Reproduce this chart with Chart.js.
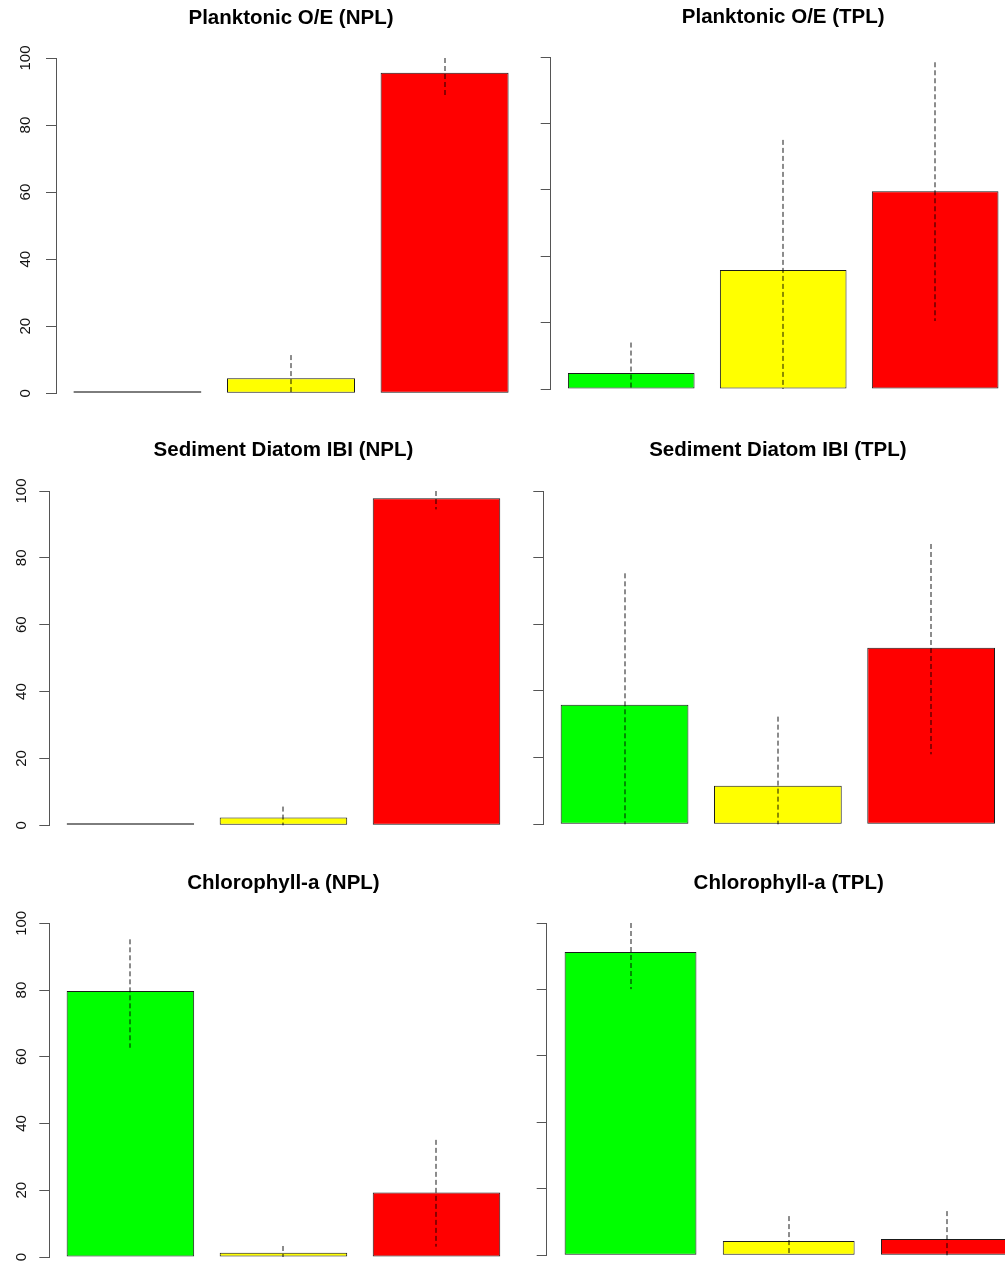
<!DOCTYPE html>
<html>
<head>
<meta charset="utf-8">
<title>Condition class percentages</title>
<script src="https://cdn.jsdelivr.net/npm/chart.js@4.4.0/dist/chart.umd.min.js"></script>
<style>
  html, body { margin: 0; padding: 0; background: #ffffff; overflow: hidden; }
  #page { position: relative; width: 1005px; height: 1262px; overflow: hidden; background: #ffffff; }
  .panel { position: absolute; }
</style>
</head>
<body>
<div id="page"></div>
<script>
// Condition classes (bar order) and their fill colours
const categories = ['Good', 'Fair', 'Poor'];
const barColors = ['#00ff00', '#ffff00', '#ff0000'];
const yTicks = [0, 20, 40, 60, 80, 100];

// Planktonic O/E
const planktonicNPL     = [0, 4.5, 95.6];
const planktonicNPLLow  = [0, 0, 88.5];
const planktonicNPLHigh = [0, 11.4, 100];

const planktonicTPL     = [4.8, 35.9, 59.6];
const planktonicTPLLow  = [0, 0, 20.5];
const planktonicTPLHigh = [14.0, 75.1, 98.5];

// Sediment Diatom IBI
const diatomNPL     = [0, 2.3, 97.8];
const diatomNPLLow  = [0, 0, 94.5];
const diatomNPLHigh = [0, 5.6, 100];

const diatomTPL     = [35.9, 11.6, 53.0];
const diatomTPLLow  = [0, 0, 21.0];
const diatomTPLHigh = [75.3, 32.3, 84.1];

// Chlorophyll-a
const chlNPL     = [79.7, 1.3, 19.3];
const chlNPLLow  = [62.7, 0, 3.1];
const chlNPLHigh = [95.2, 3.3, 35.1];

const chlTPL     = [91.3, 4.3, 4.9];
const chlTPLLow  = [80.1, 0, 0];
const chlTPLHigh = [100, 11.8, 13.3];

// Bar geometry: bars of width 1 separated by 0.2, plot range padded by 4% on each side
const BAR_SPACE = 0.2;
const RANGE_PAD = 0.04;
const SLOT = 1 + BAR_SPACE;
const SPAN = categories.length + (categories.length - 1) * BAR_SPACE;
const X_START = -0.5 + (BAR_SPACE / 2 - RANGE_PAD * SPAN) / SLOT;   // in category-index units
const X_RANGE = (SPAN * (1 + 2 * RANGE_PAD)) / SLOT;

// Panel boxes on the page: canvas box plus the axis line x and plot right edge
const panels = [
  { title: 'Planktonic O/E (NPL)', values: planktonicNPL, low: planktonicNPLLow, high: planktonicNPLHigh,
    box: { left: 0, top: 6, width: 527, height: 397, axisX: 56, plotRight: 526, padBottom: 9.7, titleGap: 27.4, labels: true, labelPad: 7.5 } },
  { title: 'Planktonic O/E (TPL)', values: planktonicTPL, low: planktonicTPLLow, high: planktonicTPLHigh,
    box: { left: 530, top: 5, width: 486, height: 393, axisX: 550.7, plotRight: 1015.7, padBottom: 9, titleGap: 27.7, labels: false, labelPad: 0 } },
  { title: 'Sediment Diatom IBI (NPL)', values: diatomNPL, low: diatomNPLLow, high: diatomNPLHigh,
    box: { left: 0, top: 438, width: 518, height: 396, axisX: 49.3, plotRight: 517.6, padBottom: 8.7, titleGap: 28.4, labels: true, labelPad: 5 } },
  { title: 'Sediment Diatom IBI (TPL)', values: diatomTPL, low: diatomTPLLow, high: diatomTPLHigh,
    box: { left: 530, top: 438, width: 483, height: 395, axisX: 543.3, plotRight: 1012.4, padBottom: 8.7, titleGap: 28.4, labels: false, labelPad: 0 } },
  { title: 'Chlorophyll-a (NPL)', values: chlNPL, low: chlNPLLow, high: chlNPLHigh,
    box: { left: 0, top: 871, width: 518, height: 395, axisX: 49.3, plotRight: 517.6, padBottom: 9, titleGap: 27.7, labels: true, labelPad: 5 } },
  { title: 'Chlorophyll-a (TPL)', values: chlTPL, low: chlTPLLow, high: chlTPLHigh,
    box: { left: 530, top: 871, width: 501, height: 393, axisX: 546.7, plotRight: 1030.7, padBottom: 8.7, titleGap: 27.4, labels: false, labelPad: 0 } }
];

// Dashed vertical interval lines through each bar centre
function intervalLines(low, high) {
  return {
    id: 'intervalLines',
    afterDatasetsDraw(chart) {
      const ctx = chart.ctx;
      const yScale = chart.scales.y;
      const meta = chart.getDatasetMeta(0);
      ctx.save();
      ctx.strokeStyle = 'rgba(0,0,0,0.9)';
      ctx.lineWidth = 1;
      ctx.setLineDash([5, 3]);
      meta.data.forEach((bar, i) => {
        if (high[i] <= low[i]) return;
        const x = Math.round(bar.x);
        ctx.beginPath();
        ctx.moveTo(x, yScale.getPixelForValue(high[i]));
        ctx.lineTo(x, yScale.getPixelForValue(low[i]));
        ctx.stroke();
      });
      ctx.restore();
    }
  };
}

const page = document.getElementById('page');

panels.forEach((p) => {
  const b = p.box;
  const axisWidth = b.axisX - b.left;
  const padRight = b.left + b.width - b.plotRight;

  const div = document.createElement('div');
  div.className = 'panel';
  div.style.left = b.left + 'px';
  div.style.top = b.top + 'px';
  div.style.width = b.width + 'px';
  div.style.height = b.height + 'px';
  const canvas = document.createElement('canvas');
  div.appendChild(canvas);
  page.appendChild(div);

  new Chart(canvas, {
    type: 'bar',
    data: {
      labels: categories,
      datasets: [{
        data: p.values,
        backgroundColor: barColors,
        borderColor: '#1a1a1a',
        borderWidth: 1,
        borderSkipped: false,
        minBarLength: 2,
        categoryPercentage: 1,
        barPercentage: 1 / SLOT,
        clip: false
      }]
    },
    options: {
      responsive: true,
      maintainAspectRatio: false,
      animation: false,
      devicePixelRatio: 1,
      layout: { padding: { left: 0, top: 0, right: padRight, bottom: b.padBottom } },
      plugins: {
        legend: { display: false },
        tooltip: { enabled: false },
        title: {
          display: true,
          fullSize: false,
          text: p.title,
          color: '#000000',
          font: { family: "'Liberation Sans', Arial, sans-serif", size: 20.5, weight: 'bold', lineHeight: 1.2 },
          padding: { top: 0, bottom: b.titleGap }
        }
      },
      scales: {
        x: {
          type: 'category',
          display: false,
          offset: true,
          // widen the category range so the outer gaps match the padded plot range
          afterBuildTicks: (scale) => {
            scale._startValue = X_START;
            scale._valueRange = X_RANGE;
          }
        },
        y: {
          type: 'linear',
          min: 0,
          max: 100,
          afterBuildTicks: (scale) => { scale.ticks = yTicks.map(v => ({ value: v })); },
          afterFit: (scale) => {
            scale.width = axisWidth;
            scale.paddingTop = 0;
            scale.paddingBottom = 0;
          },
          border: { display: true, color: '#555555', width: 1 },
          grid: { display: true, drawOnChartArea: false, drawTicks: true, tickLength: 10, color: '#555555', lineWidth: 1 },
          ticks: {
            display: b.labels,
            color: '#111111',
            font: { family: "'Liberation Sans', Arial, sans-serif", size: 15 },
            minRotation: 90,
            maxRotation: 90,
            crossAlign: 'center',
            padding: b.labelPad
          }
        }
      }
    },
    plugins: [intervalLines(p.low, p.high)]
  });
});
</script>
</body>
</html>
